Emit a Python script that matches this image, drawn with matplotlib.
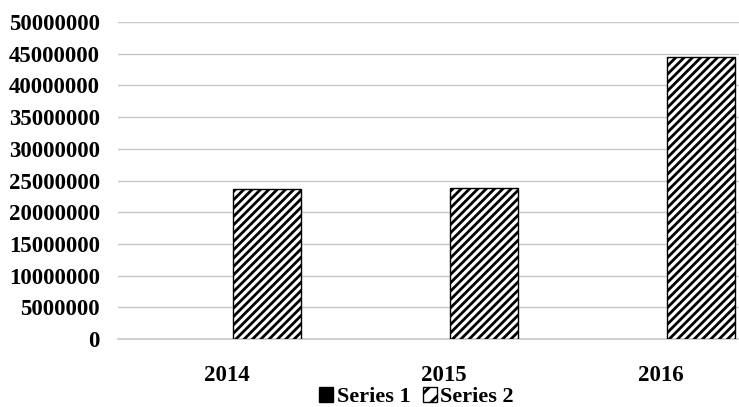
import numpy as np
import matplotlib.pyplot as plt
from matplotlib.patches import Patch

plt.rcParams['font.family'] = ['Liberation Serif', 'DejaVu Serif']
plt.rcParams['font.weight'] = 'bold'
plt.rcParams['hatch.linewidth'] = 2.0

# 數據
years = ['2014', '2015', '2016']
series1 = [0, 0, 0]
series2 = [23700000, 23800000, 44500000]
y_ticks = np.arange(0, 50000001, 5000000)

fig = plt.figure(figsize=(7.39, 4.07), dpi=100)
ax = fig.add_axes([118 / 739, 68 / 407, 651 / 739, 317 / 407])

x = np.arange(len(years))
w = 0.313
ax.bar(x - 0.13, series1, w, color='black', edgecolor='none')
ax.bar(x + 0.185, series2, w, color='white', edgecolor='black',
       hatch='////', linewidth=1.0, zorder=3)

ax.set_xlim(-0.5, 2.5)
ax.set_ylim(0, 50000000)
ax.set_yticks(y_ticks)
ax.set_yticklabels([str(v) for v in y_ticks], fontsize=16.5, fontweight='bold')
ax.set_xticks(x)
ax.set_xticklabels(years, fontsize=16.5, fontweight='bold')
ax.tick_params(axis='both', length=0)
ax.tick_params(axis='y', pad=13)
ax.tick_params(axis='x', pad=18.5)

ax.grid(axis='y', color='#c8c8c8', linewidth=1.0, zorder=0)
ax.set_axisbelow(True)
for s in ['top', 'right', 'left']:
    ax.spines[s].set_visible(False)
ax.spines['bottom'].set_color('#c8c8c8')
ax.spines['bottom'].set_linewidth(1.2)

handles = [Patch(facecolor='black', edgecolor='black'),
           Patch(facecolor='white', edgecolor='black', hatch='//')]
fig.legend(handles, ['Series 1', 'Series 2'], loc='center',
           bbox_to_anchor=(416.5 / 739, 1 - 397 / 407), ncol=2,
           frameon=False, fontsize=16, handlelength=0.63, handleheight=0.63,
           handletextpad=0.15, columnspacing=0.55, borderpad=0)

fig.savefig('out.png', dpi=100)
